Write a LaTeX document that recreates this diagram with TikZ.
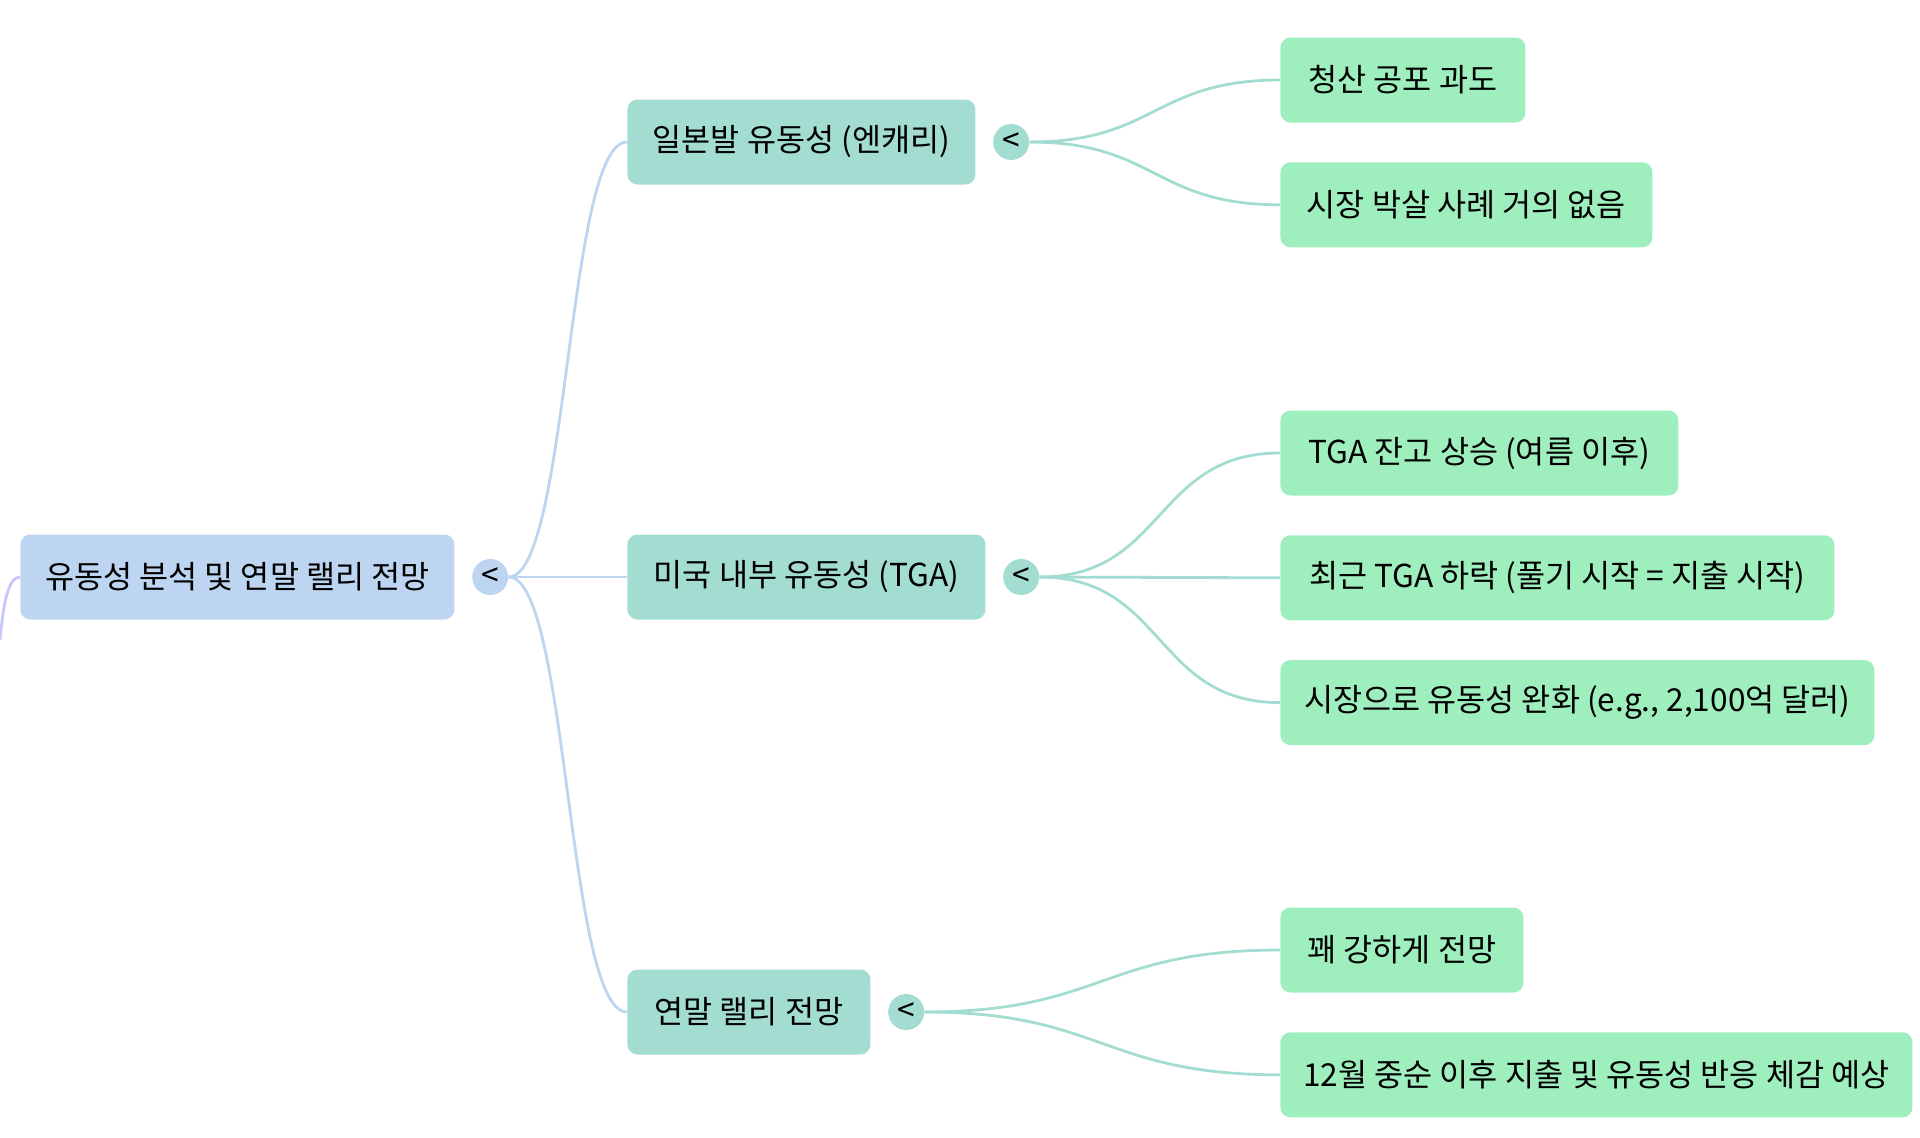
\documentclass[tikz,border=0pt]{standalone}
\usepackage{fontspec}
\setmainfont{Noto Sans CJK KR}
\usepackage{tikz}
\usetikzlibrary{positioning}
\definecolor{rootblue}{HTML}{BDD5F0}
\definecolor{midteal}{HTML}{A3DDD2}
\definecolor{leafgreen}{HTML}{9EEEBE}
\definecolor{offlilac}{HTML}{C4C8FA}
\tikzset{
  box/.style={rounded corners=5pt, minimum height=42.5pt, inner xsep=2pt, inner ysep=0pt,
    font=\fontsize{15.8}{19}\selectfont, anchor=west},
  rootbox/.style={box, fill=rootblue},
  midbox/.style={box, fill=midteal},
  leafbox/.style={box, fill=leafgreen},
  toggle/.style={circle, minimum size=18pt, inner sep=0pt, font=\fontsize{15.8}{19}\selectfont},
  branch/.style={line width=1.4pt},
}

\begin{document}
\begin{tikzpicture}[x=0.5pt, y=-0.5pt]
				\useasboundingbox (0,0) rectangle (1920,1137);
				\node[rootbox, minimum width=217pt] (root) at (20,577) {유동성 분석 및 연말 랠리 전망};
				\node[toggle, fill=rootblue, right=8.5pt of root] (roottog) {<};
				\coordinate (offstage) at (0,640);
				\node[midbox, minimum width=174pt] (japan) at (627,142) {일본발 유동성 (엔캐리)};
				\node[toggle, fill=midteal, right=8.5pt of japan] (japantog) {<};
				\node[midbox, minimum width=179pt] (usa) at (627,577) {미국 내부 유동성 (TGA)};
				\node[toggle, fill=midteal, right=8.5pt of usa] (usatog) {<};
				\node[midbox, minimum width=121.5pt] (rally) at (627,1012) {연말 랠리 전망};
				\node[toggle, fill=midteal, right=8.5pt of rally] (rallytog) {<};
				\node[leafbox, minimum width=122.5pt] (panic) at (1280,80) {청산 공포 과도};
				\node[leafbox, minimum width=186pt, below=19.5pt of panic.south west, anchor=north west] (crash) {시장 박살 사례 거의 없음};
				\node[leafbox, minimum width=199pt] (tgaup) at (1280,453) {TGA 잔고 상승 (여름 이후)};
				\node[leafbox, minimum width=277pt, below=19.5pt of tgaup.south west, anchor=north west] (tgadown) {최근 TGA 하락 (풀기 시작 = 지출 시작)};
				\node[leafbox, minimum width=297pt, below=19.5pt of tgadown.south west, anchor=north west] (ease) {시장으로 유동성 완화 (e.g., 2,100억 달러)};
				\node[leafbox, minimum width=121.5pt] (strong) at (1280,950) {꽤 강하게 전망};
				\node[leafbox, minimum width=316pt, below=19.5pt of strong.south west, anchor=north west] (december) {12월 중순 이후 지출 및 유동성 반응 체감 예상};
				\draw[branch, offlilac] (root.west) .. controls +(-10,0) and +(4,-45) .. (offstage);
				\draw[branch, rootblue] (roottog.east) .. controls +(60,0) and +(-60,0) .. (japan.west);
				\draw[branch, rootblue] (roottog.east) -- (usa.west);
				\draw[branch, rootblue] (roottog.east) .. controls +(60,0) and +(-60,0) .. (rally.west);
				\draw[branch, midteal] (japantog.east) .. controls +(126,0) and +(-126,0) .. (panic.west);
				\draw[branch, midteal] (japantog.east) .. controls +(126,0) and +(-126,0) .. (crash.west);
				\draw[branch, midteal] (usatog.east) .. controls +(126,0) and +(-126,0) .. (tgaup.west);
				\draw[branch, midteal] (usatog.east) -- (tgadown.west);
				\draw[branch, midteal] (usatog.east) .. controls +(126,0) and +(-126,0) .. (ease.west);
				\draw[branch, midteal] (rallytog.east) .. controls +(178,0) and +(-178,0) .. (strong.west);
				\draw[branch, midteal] (rallytog.east) .. controls +(178,0) and +(-178,0) .. (december.west);
\end{tikzpicture}
\end{document}
